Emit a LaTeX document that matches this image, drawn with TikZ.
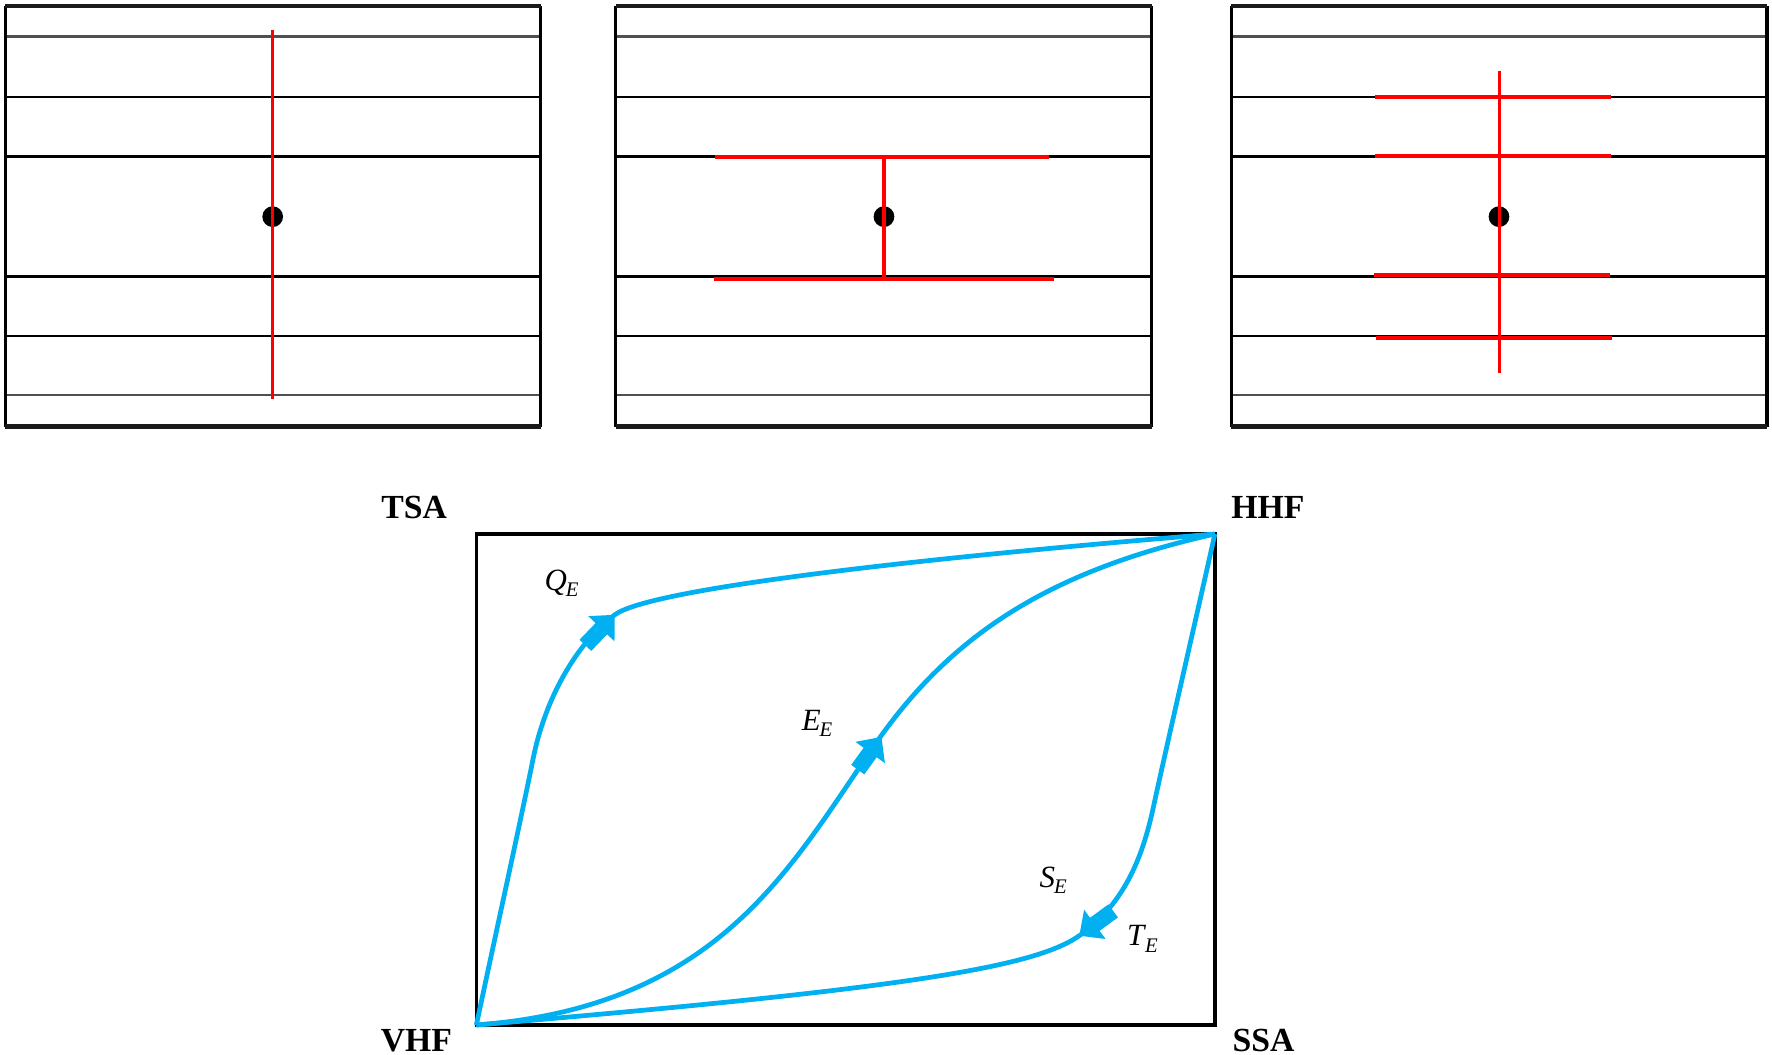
\documentclass[tikz,border=0pt]{standalone}
\usepackage{fontspec}
\setmainfont{Liberation Serif}
\usetikzlibrary{arrows.meta}
\definecolor{flowblue}{RGB}{0,176,240}
\definecolor{railgray}{RGB}{80,80,80}
\definecolor{framedark}{RGB}{26,26,26}
\newcommand{\sublab}[2]{\textit{#1}\kern-0.3pt\raisebox{-1.9pt}{\fontsize{5.9}{6}\selectfont\textit{#2}}}
\begin{document}
\begin{tikzpicture}[x=0.011301cm,y=-0.011301cm,
  frameedge/.style={line width=1.35pt, draw=framedark},
  sideedge/.style={line width=0.9pt, draw=black},
  rail/.style={line width=0.75pt, draw=black},
  grayrail/.style={line width=0.8pt, draw=railgray},
  redv/.style={line width=1pt, draw=red},
  redh/.style={line width=1.15pt, draw=red},
  flow/.style={line width=1.35pt, draw=flowblue, line join=round},
  flowarrow/.style={line width=4.6pt, draw=flowblue, -{Triangle[width=10pt,length=5.5pt]}},
  cornerlab/.style={font=\fontsize{9.6}{11}\selectfont\bfseries, inner sep=0pt},
  flowlab/.style={font=\fontsize{8.8}{10}\selectfont, inner sep=0pt}
]
\useasboundingbox (0,0) rectangle (1568,933.5);

% ---------- top panels ----------
\foreach \px in {4.5,545,1089.5}{
  \begin{scope}[shift={(\px,0)}]
    \draw[grayrail] (0,32.5) -- (474,32.5);
    \draw[grayrail] (0,349.5) -- (474,349.5);
    \draw[rail] (0,85.8) -- (474,85.8);
    \draw[rail] (0,138.6) -- (474,138.6);
    \draw[rail] (0,244.8) -- (474,244.8);
    \draw[rail] (0,297.3) -- (474,297.3);
    \draw[sideedge] (0,5.3) -- (0,377.6);
    \draw[sideedge] (474,5.3) -- (474,377.6);
    \draw[frameedge] (0,5.3) -- (474,5.3);
    \draw[frameedge] (0,377.6) -- (474,377.6);
  \end{scope}
}
\fill (241.3,191.7) circle[radius=2.95pt];
\fill (782.2,191.7) circle[radius=2.95pt];
\fill (1326.4,191.7) circle[radius=2.95pt];

% panel 1
\draw[redv] (241.3,26.5) -- (241.3,353.4);
% panel 2
\draw[redh] (633,138.9) -- (928,138.9);
\draw[redh] (631.7,246.9) -- (932.6,246.9);
\draw[redv] (782.4,138.9) -- (782.4,246.9);
% panel 3
\draw[redh] (1217,85.5) -- (1425.7,85.5);
\draw[redh] (1217,137.8) -- (1425.7,137.8);
\draw[redh] (1216,243.6) -- (1424.5,243.6);
\draw[redh] (1218,299.4) -- (1426.4,299.4);
\draw[redv] (1327,62.5) -- (1327,330.4);

% ---------- lower diagram ----------
\coordinate (vhf) at (421.5,907);
\coordinate (hhf) at (1075,472.5);
\draw[line width=0.95pt] (421.5,472.5) rectangle (1075,907);

\node[cornerlab] (tsa) at (366.5,449) {TSA};
\node[cornerlab] (hhflab) at (1122,449) {HHF};
\node[cornerlab] (vhflab) at (368.5,921) {VHF};
\node[cornerlab] (ssa) at (1118,921) {SSA};

% curves
\draw[flow] (vhf) .. controls (440,820) and (462,720) .. (472,670)
  .. controls (484,612) and (514,566) .. (544,544)
  .. controls (574,521.5) and (800,495) .. (hhf);
\draw[flow] (vhf) .. controls (640,890) and (700,765) .. (779,652)
  .. controls (845,560) and (930,505) .. (hhf);
\draw[flow] (hhf) .. controls (1060,540) and (1030,670) .. (1020,717)
  .. controls (1012,752) and (998,798) .. (955,828)
  .. controls (915,856) and (800,875) .. (vhf);

% arrows
\coordinate (qtail) at (518,571);
\coordinate (qtip) at (544,544);
\coordinate (etail) at (759,681);
\coordinate (etip) at (780,652);
\coordinate (stail) at (985,806);
\coordinate (stip) at (955,828);
\draw[flowarrow] (qtail) -- (qtip);
\draw[flowarrow] (etail) -- (etip);
\draw[flowarrow] (stail) -- (stip);

% labels
\node[flowlab] (qlab) at (497,516) {\sublab{Q}{E}};
\node[flowlab] (elab) at (723,640) {\sublab{E}{E}};
\node[flowlab] (slab) at (932,779) {\sublab{S}{E}};
\node[flowlab] (tlab) at (1011,831) {\sublab{T}{E}};
\end{tikzpicture}
\end{document}
